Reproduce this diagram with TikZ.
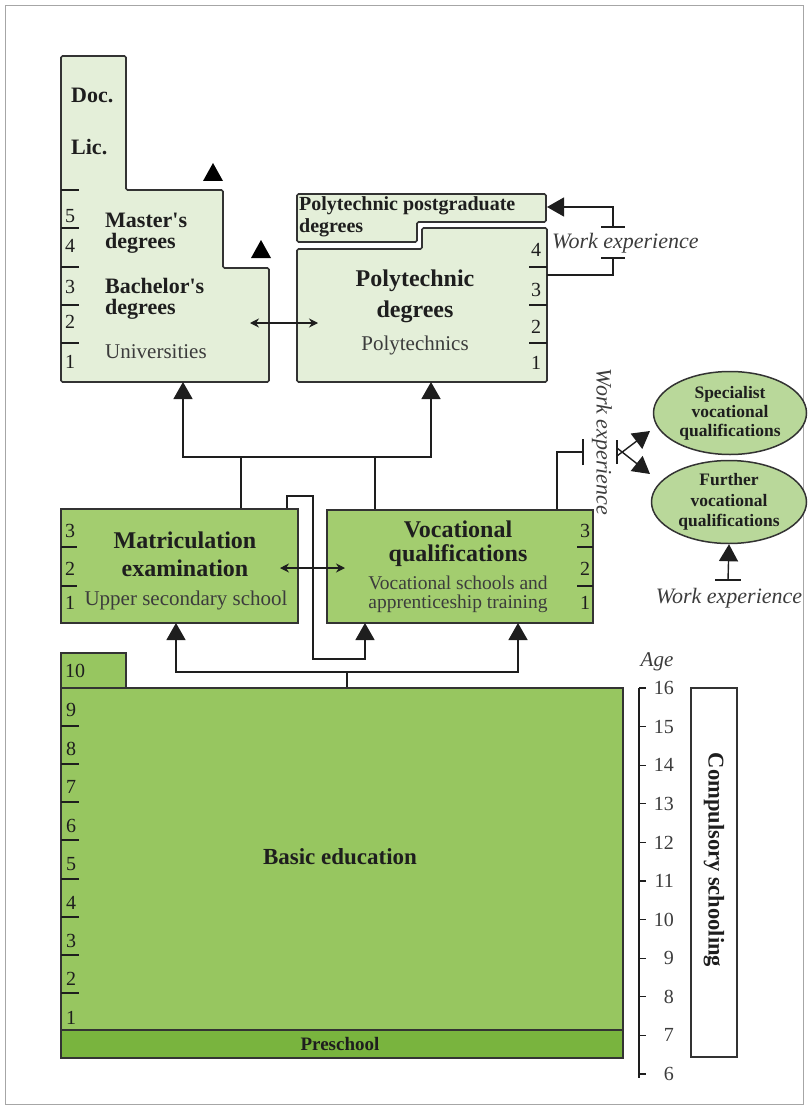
\documentclass[tikz,border=0pt]{standalone}
\usepackage{fontspec}
\setmainfont{Liberation Serif}
\usetikzlibrary{arrows.meta,shapes.geometric}
\definecolor{lightg}{HTML}{E4EFD9}
\definecolor{midg}{HTML}{A3CD6F}
\definecolor{basicg}{HTML}{97C660}
\definecolor{preg}{HTML}{79B43E}
\definecolor{ellg}{HTML}{B9D89A}
\definecolor{edgec}{HTML}{333333}
\definecolor{ink}{HTML}{1E1E1E}
\definecolor{soft}{HTML}{3C3C3C}
\tikzset{
  shapeedge/.style={draw=edgec, line width=1.6pt, rounded corners=1.5pt},
  box/.style={draw=edgec, line width=1.6pt, inner sep=0pt},
  conn/.style={draw=ink, line width=1.4pt},
  bigtip/.style={conn, -{Triangle[length=17pt,width=19pt]}},
  dbl/.style={conn, line width=1.1pt, {Stealth[length=9pt,width=9pt]}-{Stealth[length=9pt,width=9pt]}},
  tickmark/.style={draw=ink, line width=1.2pt},
  num/.style={font=\fontsize{20}{20}\selectfont, text=ink, inner sep=0pt},
  head/.style={font=\fontsize{22}{22}\selectfont\bfseries, text=ink, inner sep=0pt, align=#1},
  head/.default=center,
  sub/.style={font=\fontsize{21}{21}\selectfont, text=soft, inner sep=0pt, align=center},
  work/.style={font=\fontsize{22}{22}\selectfont\itshape, text=soft, inner sep=0pt},
  tri/.style={fill=black},
}
\begin{document}
\begin{tikzpicture}[x=1pt,y=-1pt]
\useasboundingbox (0,0) rectangle (809,1110);
\draw[gray!70, line width=1pt] (5.5,5.5) rectangle (803.5,1104.5);

% ---------- Universities ----------
\draw[shapeedge, fill=lightg] (61,56) -- (126,56) -- (126,190) -- (223,190) -- (223,268)
  -- (269,268) -- (269,382) -- (61,382) -- cycle;
\foreach \y in {190,228,267,305,343} \draw[tickmark] (61,\y) -- (79,\y);
\foreach \n/\y in {5/216,4/246,3/287,2/322,1/362} \node[num] at (70,\y) {\n};
\node[head=left, anchor=west] (doc) at (71,95) {Doc.};
\node[head=left, anchor=west] (lic) at (71,147) {Lic.};
\node[head=left, anchor=west, font=\fontsize{22}{21.5}\selectfont\bfseries] (mast) at (105,233) {Master\textquotesingle s\\degrees};
\node[head=left, anchor=west, font=\fontsize{22}{21.5}\selectfont\bfseries] (bach) at (105,299) {Bachelor\textquotesingle s\\degrees};
\node[sub, anchor=west] (univ) at (105,352) {Universities};
\fill[tri] (203,181) -- (223,181) -- (213,163) -- cycle;
\fill[tri] (251,258) -- (271,258) -- (261,240) -- cycle;
\coordinate (uniB) at (183,382);
\coordinate (uniIn) at (250,323);

% ---------- Polytechnics ----------
\draw[shapeedge, fill=lightg] (297,194) -- (546,194) -- (546,222) -- (417,222) -- (417,242)
  -- (297,242) -- cycle;
\draw[shapeedge, fill=lightg] (297,249) -- (422,249) -- (422,228) -- (547,228) -- (547,382)
  -- (297,382) -- cycle;
\node[head=left, anchor=north west, font=\fontsize{20}{22}\selectfont\bfseries] (pgtext) at (299,196) {Polytechnic postgraduate\\degrees};
\foreach \y in {267,305,343} \draw[tickmark] (529,\y) -- (547,\y);
\foreach \n/\y in {4/250,3/290,2/327,1/363} \node[num] at (536,\y) {\n};
\node[head, font=\fontsize{24}{31}\selectfont\bfseries] (polyt) at (415,296) {Polytechnic\\degrees};
\node[sub] (polys) at (415,345) {Polytechnics};
\coordinate (polyB) at (431,382);
\coordinate (polyIn) at (318,323);
\coordinate (pgR) at (547,207);
\coordinate (polyR) at (547,275);

\draw[dbl] (uniIn) -- (polyIn);

% work experience (polytechnic)
\coordinate (wa) at (613,227);
\coordinate (wb) at (613,258);
\draw[bigtip] (wa) -- (wa |- pgR) -- (pgR);
\draw[conn] (polyR) -- (wb |- polyR) -- (wb);
\draw[conn] ([xshift=-12pt]wa) -- ([xshift=12pt]wa);
\draw[conn] ([xshift=-12pt]wb) -- ([xshift=12pt]wb);
\node[work, anchor=west] (work1) at (552,243) {Work experience};

% ---------- Upper secondary ----------
\node[box, fill=midg, minimum width=237pt, minimum height=114pt] (matric) at (179.5,566) {};
\node[box, fill=midg, minimum width=266pt, minimum height=113pt] (voc) at (460,566.5) {};
\foreach \y in {547,586} \draw[tickmark] (61,\y) -- (77,\y);
\foreach \n/\y in {3/531,2/569,1/603} \node[num] at (70,\y) {\n};
\foreach \y in {547,586} \draw[tickmark] (577,\y) -- (593,\y);
\foreach \n/\y in {3/531,2/569,1/603} \node[num] at (585,\y) {\n};
\node[head, font=\fontsize{24}{28}\selectfont\bfseries] (mt) at (185,554) {Matriculation\\examination};
\node[sub] (ms) at (186,600) {Upper secondary school};
\node[head, font=\fontsize{24}{24}\selectfont\bfseries] (vt) at (458,544) {Vocational\\qualifications};
\node[sub, font=\fontsize{19.5}{19}\selectfont] (vs) at (458,594) {Vocational schools and\\apprenticeship training};
\coordinate (mIn) at (280,568);
\coordinate (vIn) at (345,568);
\draw[dbl] (mIn) -- (vIn);

% connectors to higher education
\coordinate (jl) at (241,457);
\coordinate (jr) at (375,457);
\draw[conn] (matric.north -| jl) -- (jl);
\draw[conn] (voc.north -| jr) -- (jr);
\draw[bigtip] (jl) -- (jl -| uniB) -- (uniB);
\draw[bigtip] (jl) -- (jr) -- (jr -| polyB) -- (polyB);

% loop from matriculation to vocational
\coordinate (lp1) at (287,496);
\coordinate (lp2) at (313,659);
\coordinate (vB2) at (365,623);
\draw[bigtip] (matric.north -| lp1) -- (lp1) -- (lp1 -| lp2) -- (lp2) -- (lp2 -| vB2) -- (vB2);

% ---------- Further qualifications ----------
\node[ellipse, draw=edgec, line width=1.5pt, fill=ellg, minimum width=153pt, minimum height=83pt, inner sep=0pt,
  align=center, font=\fontsize{17.5}{19}\selectfont\bfseries, text=ink] (spec) at (730,413) {Specialist\\vocational\\qualifications};
\node[ellipse, draw=edgec, line width=1.5pt, fill=ellg, minimum width=155pt, minimum height=83pt, inner sep=0pt,
  align=center, font=\fontsize{17.5}{20.5}\selectfont\bfseries, text=ink] (furth) at (729,502) {Further\\vocational\\qualifications};
\coordinate (vw1) at (557,452);
\coordinate (vw2) at (583,452);
\draw[conn] (voc.north -| vw1) -- (vw1) -- (vw2);
\draw[conn] ([yshift=-13pt]vw2) -- ([yshift=13pt]vw2);
\node[work, rotate=-90] (work2) at (602,442) {Work experience};
\coordinate (sp) at (617,452);
\draw[conn] ([yshift=-12pt]sp) -- ([yshift=12pt]sp);
\coordinate (spT) at (650,431);
\coordinate (spB) at (650,474);
\draw[bigtip] ([yshift=-4pt]sp) -- (spT);
\draw[bigtip] ([yshift=4pt]sp) -- (spB);
\coordinate (fw) at (728,580);
\draw[bigtip] (fw) -- (furth.south);
\draw[conn] ([xshift=-13pt]fw) -- ([xshift=13pt]fw);
\node[work] (work3) at (729,598) {Work experience};

% ---------- Basic education ----------
\node[box, fill=basicg, minimum width=65pt, minimum height=35pt] (ten) at (93.5,670.5) {};
\node[box, fill=basicg, minimum width=562pt, minimum height=342pt] (basic) at (342,859) {};
\node[box, fill=preg, minimum width=562pt, minimum height=28pt] (pre) at (342,1044) {};
\node[num] at (75,671) {10};
\foreach \y in {726,764,802,840,879,917,955,993} \draw[tickmark] (61,\y) -- (79,\y);
\foreach \n/\y in {9/710,8/749,7/787,6/826,5/864,4/903,3/941,2/979,1/1018} \node[num] at (71,\y) {\n};
\node[head, font=\fontsize{23}{23}\selectfont\bfseries] (bt) at (340,857) {Basic education};
\node[head, font=\fontsize{19}{20}\selectfont\bfseries] (pt) at (340,1044) {Preschool};

\coordinate (bj) at (347,672);
\coordinate (mB) at (176,623);
\coordinate (vB) at (518,623);
\draw[conn] (basic.north -| bj) -- (bj);
\draw[bigtip] (bj) -- (bj -| mB) -- (mB);
\draw[bigtip] (bj) -- (bj -| vB) -- (vB);

% ---------- Age scale ----------
\node[work, font=\fontsize{21}{21}\selectfont\itshape] (age) at (657,662) {Age};
\coordinate (at) at (639,688);
\coordinate (ab) at (639,1078);
\draw[conn, line width=1.1pt] (at) -- (ab);
\foreach \a in {6,...,16} {
  \pgfmathsetmacro{\yy}{688+(16-\a)*38.6}
  \draw[tickmark, line width=1.1pt] (639,\yy) -- (646,\yy);
  \node[num, anchor=east, font=\fontsize{20}{20}\selectfont, text=soft] at (674,\yy) {\a};
}
\node[box, fill=white, minimum width=46pt, minimum height=369pt] (comp) at (714,872.5) {};
\node[head, rotate=-90, font=\fontsize{22.5}{22}\selectfont\bfseries] (ct) at (714,860) {Compulsory schooling};
\end{tikzpicture}
\end{document}
